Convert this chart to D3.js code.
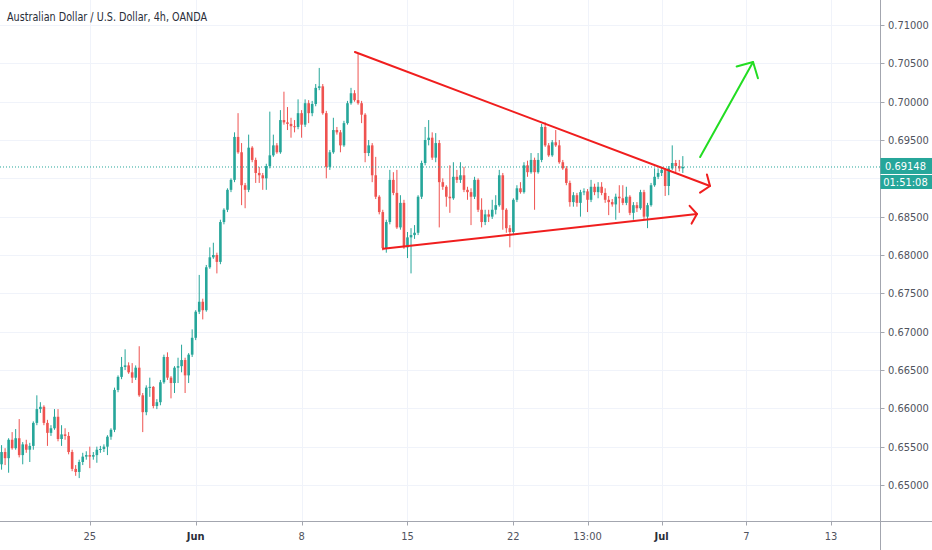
<!DOCTYPE html>
<html>
<head>
<meta charset="utf-8">
<script src="https://cdn.jsdelivr.net/npm/d3@7"></script>
<style>
  html, body { margin: 0; padding: 0; background: #fff; }
  svg { display: block; }
  .lbl { font-family: "Liberation Sans Narrow", "DejaVu Sans Condensed", "Roboto Condensed", Roboto, sans-serif; }
</style>
</head>
<body>
<svg id="canvas" width="932" height="550"></svg>
<script>
// 4h AUD/USD bars
const opens = [
  .6527,.6543,.6535,.6559,.6548,.6561,.6539,.6553,.6546,.6551,
  .6581,.6599,.6602,.6581,.6568,.6574,.6589,.6560,.6566,.6564,
  .6543,.6521,.6517,.6530,.6537,.6539,.6537,.6539,.6546,.6547,
  .6550,.6563,.6572,.6624,.6641,.6654,.6656,.6647,.6640,.6653,
  .6617,.6595,.6627,.6628,.6603,.6608,.6634,.6667,.6640,.6633,
  .6653,.6655,.6663,.6643,.6670,.6692,.6726,.6739,.6728,.6784,
  .6797,.6800,.6791,.6843,.6859,.6885,.6898,.6954,.6934,.6891,
  .6885,.6940,.6924,.6907,.6904,.6900,.6916,.6930,.6943,.6934,
  .6976,.6973,.6971,.6968,.6967,.6985,.6970,.6998,.6985,.6997,
  .7018,.7020,.6985,.6915,.6934,.6963,.6960,.6943,.6972,.6998,
  .7011,.7002,.6998,.6983,.6933,.6943,.6904,.6876,.6856,.6809,
  .6843,.6898,.6881,.6836,.6868,.6810,.6823,.6826,.6829,.6876,
  .6920,.6950,.6953,.6927,.6946,.6895,.6889,.6876,.6874,.6902,
  .6898,.6904,.6885,.6882,.6876,.6898,.6859,.6843,.6853,.6850,
  .6859,.6865,.6904,.6859,.6835,.6830,.6872,.6887,.6882,.6917,
  .6908,.6924,.6908,.6924,.6967,.6943,.6930,.6947,.6943,.6921,
  .6913,.6894,.6869,.6878,.6868,.6882,.6883,.6872,.6889,.6882,
  .6889,.6881,.6872,.6869,.6866,.6876,.6874,.6868,.6876,.6855,
  .6865,.6861,.6882,.6850,.6865,.6891,.6902,.6907,.6911,.6890,
  .6913,.6920,.6916,.6913
]
const highs = [
  .6552,.6548,.6561,.6569,.6573,.6586,.6556,.6559,.6555,.6583,
  .6617,.6608,.6604,.6585,.6578,.6599,.6599,.6578,.6574,.6569,
  .6546,.6526,.6533,.6542,.6544,.6550,.6543,.6550,.6551,.6553,
  .6565,.6574,.6627,.6643,.6667,.6677,.6660,.6659,.6656,.6681,
  .6620,.6630,.6640,.6629,.6612,.6637,.6670,.6673,.6642,.6655,
  .6666,.6683,.6666,.6672,.6703,.6728,.6774,.6743,.6787,.6810,
  .6816,.6803,.6846,.6861,.6887,.6900,.6960,.6985,.6946,.6894,
  .6957,.6942,.6927,.6915,.6907,.6919,.6987,.6957,.6946,.6989,
  .7013,.6993,.6979,.6976,.7003,.6989,.7003,.7002,.7001,.7023,
  .7044,.7023,.6988,.6937,.6979,.6967,.6963,.6975,.7001,.7018,
  .7015,.7063,.7001,.6985,.6950,.6946,.6928,.6878,.6859,.6846,
  .6911,.6908,.6911,.6878,.6872,.6830,.6835,.6839,.6878,.6923,
  .6967,.6976,.6960,.6959,.6950,.6900,.6891,.6917,.6921,.6911,
  .6921,.6915,.6889,.6887,.6902,.6900,.6874,.6859,.6859,.6872,
  .6878,.6911,.6907,.6861,.6839,.6874,.6891,.6895,.6921,.6923,
  .6933,.6927,.6933,.6971,.6973,.6946,.6950,.6963,.6950,.6924,
  .6916,.6897,.6882,.6881,.6885,.6887,.6886,.6898,.6893,.6895,
  .6895,.6887,.6877,.6873,.6880,.6891,.6891,.6889,.6878,.6869,
  .6869,.6885,.6885,.6868,.6894,.6913,.6913,.6915,.6913,.6916,
  .6943,.6924,.6924,.6929
]
const lows = [
  .6520,.6526,.6516,.6546,.6546,.6536,.6527,.6542,.6530,.6546,
  .6578,.6594,.6578,.6551,.6564,.6572,.6557,.6551,.6559,.6540,
  .6518,.6512,.6509,.6526,.6533,.6522,.6533,.6529,.6542,.6543,
  .6539,.6559,.6569,.6621,.6638,.6650,.6645,.6633,.6637,.6615,
  .6569,.6591,.6615,.6600,.6599,.6604,.6632,.6637,.6613,.6620,
  .6633,.6647,.6620,.6633,.6667,.6689,.6723,.6716,.6726,.6782,
  .6795,.6776,.6788,.6840,.6856,.6882,.6895,.6932,.6865,.6861,
  .6882,.6921,.6894,.6894,.6885,.6885,.6913,.6928,.6932,.6932,
  .6970,.6963,.6953,.6960,.6964,.6953,.6967,.6972,.6981,.6994,
  .7015,.6983,.6900,.6911,.6932,.6957,.6934,.6941,.6970,.6996,
  .7000,.6996,.6972,.6921,.6929,.6895,.6873,.6853,.6806,.6803,
  .6840,.6878,.6834,.6833,.6808,.6796,.6776,.6821,.6826,.6873,
  .6917,.6943,.6924,.6921,.6836,.6885,.6863,.6855,.6872,.6894,
  .6894,.6882,.6872,.6839,.6873,.6856,.6836,.6839,.6843,.6847,
  .6853,.6863,.6833,.6829,.6810,.6826,.6869,.6880,.6880,.6902,
  .6906,.6859,.6906,.6921,.6941,.6928,.6928,.6941,.6919,.6911,
  .6891,.6863,.6863,.6863,.6850,.6878,.6856,.6869,.6878,.6874,
  .6878,.6868,.6852,.6863,.6846,.6855,.6865,.6865,.6852,.6846,
  .6856,.6859,.6846,.6835,.6863,.6889,.6899,.6903,.6877,.6878,
  .6911,.6908,.6909,.6907
]
const closes = [
  .6543,.6535,.6559,.6548,.6561,.6539,.6553,.6546,.6551,.6581,
  .6599,.6602,.6581,.6568,.6574,.6589,.6560,.6566,.6564,.6543,
  .6521,.6517,.6530,.6537,.6539,.6537,.6539,.6546,.6547,.6550,
  .6563,.6572,.6624,.6641,.6654,.6656,.6647,.6640,.6653,.6617,
  .6595,.6627,.6628,.6603,.6608,.6634,.6667,.6640,.6633,.6653,
  .6655,.6663,.6643,.6670,.6692,.6726,.6739,.6728,.6784,.6797,
  .6800,.6791,.6843,.6859,.6885,.6898,.6954,.6934,.6891,.6885,
  .6940,.6924,.6907,.6904,.6900,.6916,.6930,.6943,.6934,.6976,
  .6973,.6971,.6968,.6967,.6985,.6970,.6998,.6985,.6997,.7018,
  .7020,.6985,.6915,.6934,.6963,.6960,.6943,.6972,.6998,.7011,
  .7002,.6998,.6983,.6933,.6943,.6904,.6876,.6856,.6809,.6843,
  .6898,.6881,.6836,.6868,.6810,.6823,.6826,.6829,.6876,.6920,
  .6950,.6953,.6927,.6946,.6895,.6889,.6876,.6874,.6902,.6898,
  .6904,.6885,.6882,.6876,.6898,.6859,.6843,.6853,.6850,.6859,
  .6865,.6904,.6859,.6835,.6830,.6872,.6887,.6882,.6917,.6908,
  .6924,.6908,.6924,.6967,.6943,.6930,.6947,.6943,.6921,.6913,
  .6894,.6869,.6878,.6868,.6882,.6883,.6872,.6889,.6882,.6889,
  .6881,.6872,.6869,.6866,.6876,.6874,.6868,.6876,.6855,.6865,
  .6861,.6882,.6850,.6865,.6891,.6902,.6907,.6911,.6890,.6913,
  .6920,.6916,.6913,.69148
]

// axis ticks
const priceTicks = [0.65, 0.655, 0.66, 0.665, 0.67, 0.675, 0.68, 0.685, 0.69, 0.695, 0.70, 0.705, 0.71]
const timeTickBars = [25, 55, 85, 115, 145, 166, 187, 211, 235]
const timeTickLabels = ['25', 'Jun', '8', '15', '22', '13:00', 'Jul', '7', '13']
const lastPrice = 0.69148
const countdown = '01:51:08'

// drawings on the chart, [bar, price]
const upperTrend = [[100.1, 0.70648], [200.7, 0.68900]]
const lowerTrend = [[108.1, 0.68080], [197.0, 0.68535]]
const breakoutArrow = [[197.9, 0.69278], [212.9, 0.70517]]

let canvas = d3.select('#canvas')

const W = 932, H = 550
const axisX = 880.5, axisY = 521.5

let x = d3.scaleLinear().domain([0, 249]).range([1.55, 880.5])
let y = d3.scaleLinear().domain([0.65, 0.71]).range([485, 25])

canvas.append('rect').attr('width', W).attr('height', H).attr('fill', '#ffffff')

canvas.append('clipPath').attr('id', 'plot')
    .append('rect').attr('x', 0).attr('y', 0).attr('width', axisX).attr('height', axisY)

// grid
let grid = canvas.append('g').attr('clip-path', 'url(#plot)')
grid.selectAll('.hg')
    .data(priceTicks)
    .enter()
    .append('line')
    .attr('x1', 0).attr('x2', axisX)
    .attr('y1', d => Math.round(y(d)) + 0.5)
    .attr('y2', d => Math.round(y(d)) + 0.5)
    .attr('stroke', '#f0f3fa')
grid.selectAll('.vg')
    .data(timeTickBars)
    .enter()
    .append('line')
    .attr('x1', d => Math.round(x(d)) + 0.5)
    .attr('x2', d => Math.round(x(d)) + 0.5)
    .attr('y1', 0).attr('y2', axisY)
    .attr('stroke', '#f0f3fa')

// title
canvas.append('text')
    .attr('class', 'lbl')
    .attr('x', 7).attr('y', 20.5)
    .attr('font-size', 12.5)
    .attr('fill', '#2a2e39')
    .attr('textLength', 200)
    .attr('lengthAdjust', 'spacingAndGlyphs')
    .text('Australian Dollar / U.S. Dollar, 4h, OANDA')

// candles
let bars = d3.range(closes.length).map(i => ({
    i: i, o: opens[i], h: highs[i], l: lows[i], c: closes[i]
}))
let up = '#26a69a', down = '#ef5350'
let plot = canvas.append('g').attr('clip-path', 'url(#plot)')

plot.selectAll('line.wick')
    .data(bars)
    .enter()
    .append('line')
    .attr('class', 'wick')
    .attr('x1', d => x(d.i)).attr('x2', d => x(d.i))
    .attr('y1', d => y(d.h)).attr('y2', d => y(d.l))
    .attr('stroke', d => d.c >= d.o ? up : down)
    .attr('stroke-width', 1)

plot.selectAll('rect.body')
    .data(bars)
    .enter()
    .append('rect')
    .attr('class', 'body')
    .attr('x', d => x(d.i) - 1.3)
    .attr('width', 2.6)
    .attr('y', d => y(Math.max(d.o, d.c)))
    .attr('height', d => Math.max(1, Math.abs(y(d.o) - y(d.c))))
    .attr('fill', d => d.c >= d.o ? up : down)

// last price line
plot.append('line')
    .attr('x1', 0).attr('x2', axisX)
    .attr('y1', y(lastPrice)).attr('y2', y(lastPrice))
    .attr('stroke', up)
    .attr('stroke-dasharray', '1,2')

// drawings
function arrowLine(pts, color, len, ang) {
    let p0 = [x(pts[0][0]), y(pts[0][1])]
    let p1 = [x(pts[1][0]), y(pts[1][1])]
    let th = Math.atan2(p0[1] - p1[1], p0[0] - p1[0])
    let w1 = [p1[0] + len * Math.cos(th + ang), p1[1] + len * Math.sin(th + ang)]
    let w2 = [p1[0] + len * Math.cos(th - ang), p1[1] + len * Math.sin(th - ang)]
    let g = canvas.append('g')
        .attr('fill', 'none').attr('stroke', color)
        .attr('stroke-width', 2).attr('stroke-linecap', 'round').attr('stroke-linejoin', 'round')
    g.append('path').attr('d', d3.line()([p0, p1]))
    g.append('path').attr('d', d3.line()([w1, p1, w2]))
}
arrowLine(upperTrend, '#f01e1e', 12, 0.95)
arrowLine(lowerTrend, '#f01e1e', 11, 0.95)
arrowLine(breakoutArrow, '#22dd22', 17, 0.8)

// axes
canvas.append('line')
    .attr('x1', axisX).attr('x2', axisX).attr('y1', 0).attr('y2', H)
    .attr('stroke', '#a3a6af')
canvas.append('line')
    .attr('x1', 0).attr('x2', W).attr('y1', axisY).attr('y2', axisY)
    .attr('stroke', '#a3a6af')

// the badge covers the price labels next to it
let ly = y(lastPrice)
let badgeTop = ly - 9, badgeBottom = ly + 22
let shownTicks = priceTicks.filter(d => y(d) + 7 < badgeTop || y(d) - 7 > badgeBottom)

let fmt = d3.format('.5f')
canvas.selectAll('.ytick')
    .data(shownTicks)
    .enter()
    .append('line')
    .attr('x1', axisX).attr('x2', axisX + 4)
    .attr('y1', d => Math.round(y(d)) + 0.5).attr('y2', d => Math.round(y(d)) + 0.5)
    .attr('stroke', '#a3a6af')
canvas.selectAll('.ylab')
    .data(shownTicks)
    .enter()
    .append('text')
    .attr('class', 'lbl')
    .attr('x', 888).attr('y', d => y(d) + 4)
    .attr('font-size', 11)
    .attr('fill', '#50535e')
    .text(d => fmt(d))

canvas.selectAll('.xtick')
    .data(timeTickBars)
    .enter()
    .append('line')
    .attr('x1', d => Math.round(x(d)) + 0.5).attr('x2', d => Math.round(x(d)) + 0.5)
    .attr('y1', axisY).attr('y2', axisY + 4)
    .attr('stroke', '#a3a6af')
canvas.selectAll('.xlab')
    .data(timeTickBars)
    .enter()
    .append('text')
    .attr('class', 'lbl')
    .attr('x', d => x(d)).attr('y', 540)
    .attr('text-anchor', 'middle')
    .attr('font-size', 11)
    .attr('font-weight', (d, i) => (timeTickLabels[i] === 'Jun' || timeTickLabels[i] === 'Jul') ? 'bold' : 'normal')
    .attr('fill', (d, i) => (timeTickLabels[i] === 'Jun' || timeTickLabels[i] === 'Jul') ? '#2a2e39' : '#50535e')
    .text((d, i) => timeTickLabels[i])

// last price badge
canvas.append('rect')
    .attr('x', axisX).attr('y', badgeTop).attr('width', W - axisX).attr('height', badgeBottom - badgeTop)
    .attr('fill', up)
canvas.append('line')
    .attr('x1', axisX).attr('x2', W).attr('y1', ly + 7.5).attr('y2', ly + 7.5)
    .attr('stroke', '#ffffff').attr('stroke-width', 1)
canvas.append('text')
    .attr('class', 'lbl')
    .attr('x', 905.5).attr('y', ly + 3.5)
    .attr('text-anchor', 'middle')
    .attr('font-size', 11).attr('fill', '#ffffff')
    .text(fmt(lastPrice))
canvas.append('text')
    .attr('class', 'lbl')
    .attr('x', 905.5).attr('y', ly + 19.5)
    .attr('text-anchor', 'middle')
    .attr('font-size', 11).attr('fill', '#ffffff')
    .text(countdown)
</script>
</body>
</html>
